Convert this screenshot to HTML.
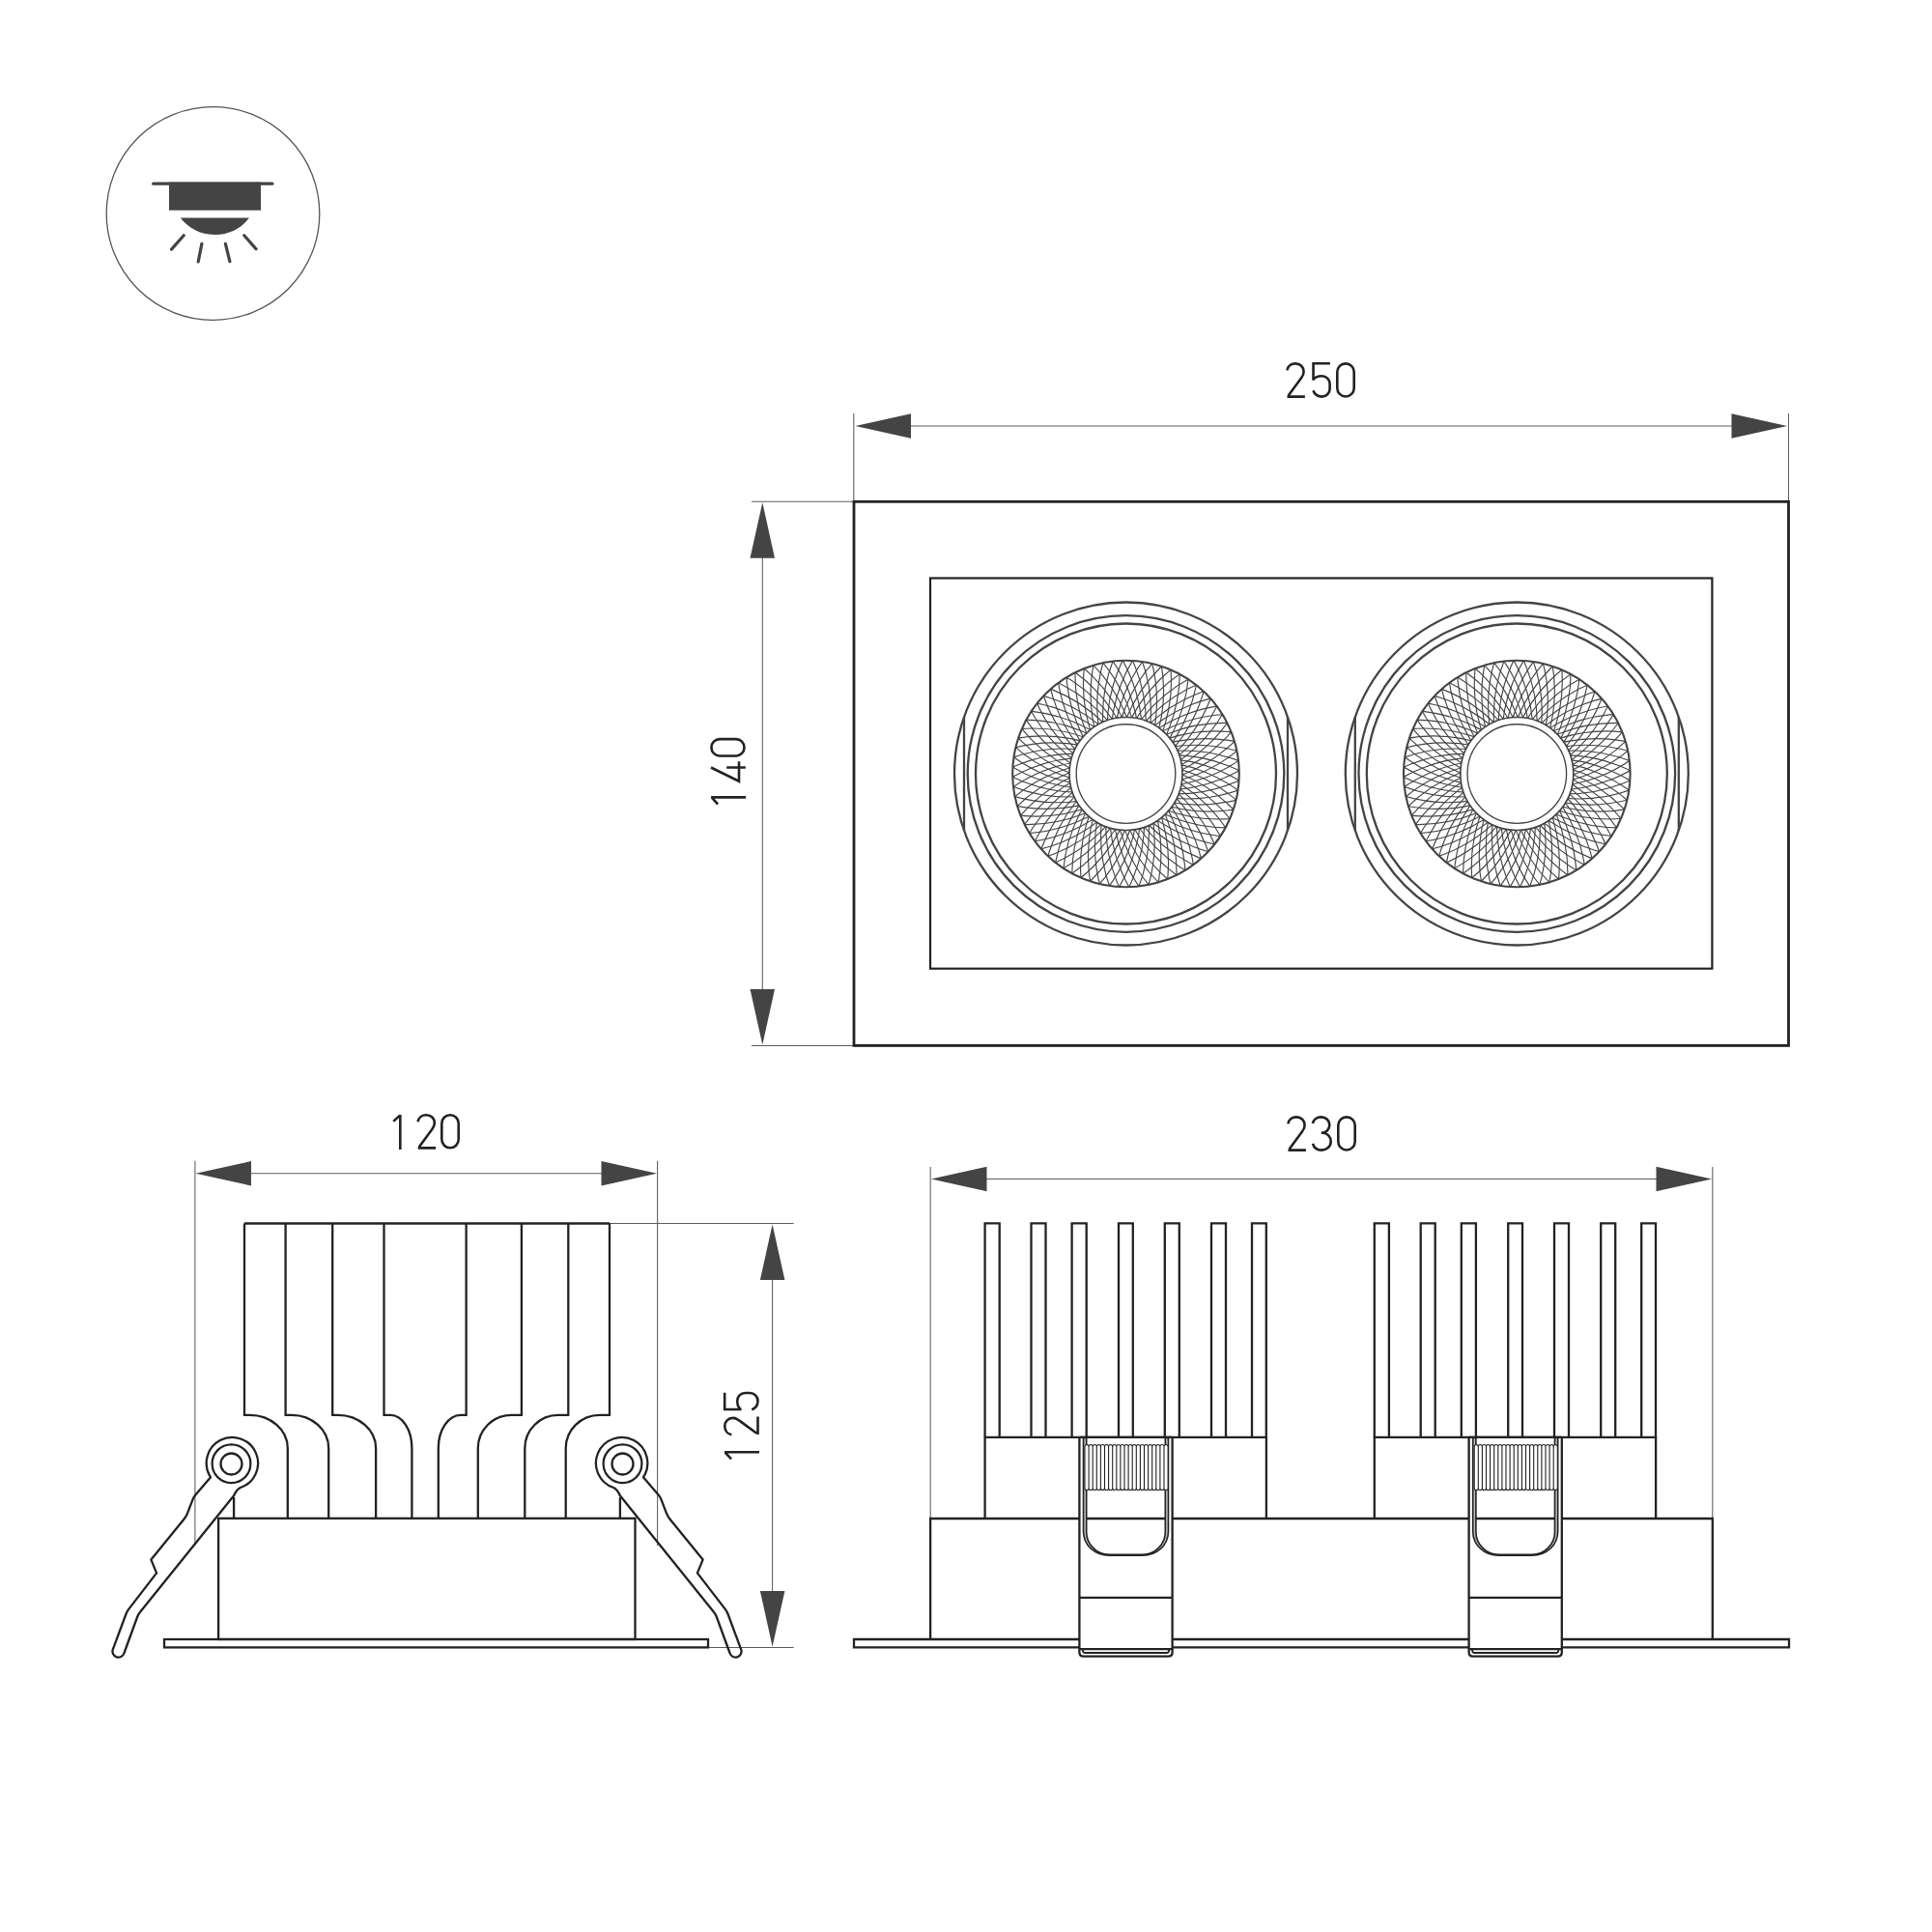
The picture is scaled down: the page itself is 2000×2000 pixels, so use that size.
<!DOCTYPE html>
<html><head><meta charset="utf-8"><title>drawing</title>
<style>html,body{margin:0;padding:0;background:#fff;width:2000px;height:2000px;overflow:hidden;font-family:"Liberation Sans",sans-serif;} svg{display:block}</style>
</head><body>
<svg width="2000" height="2000" viewBox="0 0 2000 2000">
<rect width="2000" height="2000" fill="#fff"/>
<g>
<circle cx="220.5" cy="221" r="110.3" fill="none" stroke="#555" stroke-width="1.3"/>
<line x1="158.7" y1="190.2" x2="281.9" y2="190.2" stroke="#444" stroke-width="3.2" stroke-linecap="round"/>
<rect x="175" y="188.6" width="95" height="29.1" fill="#444"/>
<path d="M186.8,225.6 L258,225.6 C250,236 238,243 222.4,243 C206.8,243 194.8,236 186.8,225.6 Z" fill="#444"/>
<g stroke="#444" stroke-width="3.2" stroke-linecap="round">
<line x1="190.2" y1="243.8" x2="177.5" y2="258.1"/>
<line x1="208.9" y1="252.4" x2="205.2" y2="271"/>
<line x1="233.4" y1="252.4" x2="237.9" y2="270.7"/>
<line x1="252.8" y1="243.8" x2="265.1" y2="257.8"/>
</g>
</g>
<g stroke="#5c5c5c" stroke-width="1.05" fill="none">
<line x1="883.8" y1="428" x2="883.8" y2="519"/>
<line x1="1851.5" y1="428" x2="1851.5" y2="519"/>
<line x1="940" y1="441" x2="1795" y2="441"/>
<line x1="778" y1="519.3" x2="884" y2="519.3"/>
<line x1="778" y1="1082.4" x2="884" y2="1082.4"/>
<line x1="789.3" y1="575" x2="789.3" y2="1026"/>
<line x1="201.9" y1="1201.7" x2="201.9" y2="1600"/>
<line x1="680.6" y1="1201.7" x2="680.6" y2="1600"/>
<line x1="258" y1="1214.7" x2="625" y2="1214.7"/>
<line x1="631" y1="1266.5" x2="821.6" y2="1266.5"/>
<line x1="734" y1="1705.5" x2="821.6" y2="1705.5"/>
<line x1="799.6" y1="1322" x2="799.6" y2="1650"/>
<line x1="963.2" y1="1208.1" x2="963.2" y2="1572"/>
<line x1="1772.8" y1="1208.1" x2="1772.8" y2="1572"/>
<line x1="1019" y1="1220.5" x2="1716" y2="1220.5"/>
</g>
<g fill="#444">
<polygon points="885.5,441.0 943.0,428.2 943.0,453.8"/>
<polygon points="1850.0,441.0 1792.5,428.2 1792.5,453.8"/>
<polygon points="789.3,520.3 776.5,577.8 802.0,577.8"/>
<polygon points="789.3,1081.5 776.5,1024.0 802.0,1024.0"/>
<polygon points="202.5,1214.7 260.0,1202.0 260.0,1227.5"/>
<polygon points="680.0,1214.7 622.5,1202.0 622.5,1227.5"/>
<polygon points="799.6,1267.5 786.9,1325.0 812.4,1325.0"/>
<polygon points="799.6,1704.5 786.9,1647.0 812.4,1647.0"/>
<polygon points="964.0,1220.5 1021.5,1207.8 1021.5,1233.2"/>
<polygon points="1772.0,1220.5 1714.5,1207.8 1714.5,1233.2"/>
</g>
<g fill="none" stroke="#222" stroke-width="2.6" stroke-linejoin="miter" stroke-linecap="butt">
<path transform="translate(1331.5,375.1)" d="M0.9,8.3 C1.5,4.2 5,1.3 9.6,1.3 C14.5,1.3 18.1,4.8 18.1,9.6 C18.1,12.2 17.2,14.1 15.6,16.1 L2.2,34.3 M1.0,35.5 L19.4,35.5"/>
<path transform="translate(1358.7,375.1)" d="M18.2,1.15 L0.85,1.15 L0.85,18.6 M0.85,17.9 C2.6,15.6 5.9,14.2 9.7,14.2 C14.3,14.2 17.9,17.8 17.9,22.4 L17.9,27.3 C17.9,31.9 14.3,35.5 9.7,35.5 C5.6,35.5 2.1,33 0.7,29.2"/>
<path transform="translate(1383,375.1)" d="M1.3,10 A8.7,8.7 0 0 1 18.7,10 L18.7,26.7 A8.7,8.7 0 0 1 1.3,26.7 Z"/>
<path transform="translate(1332.5,1155.1)" d="M0.9,8.3 C1.5,4.2 5,1.3 9.6,1.3 C14.5,1.3 18.1,4.8 18.1,9.6 C18.1,12.2 17.2,14.1 15.6,16.1 L2.2,34.3 M1.0,35.5 L19.4,35.5"/>
<path transform="translate(1358.1,1155.1)" d="M0.9,7.9 C1.6,4 5,1.3 9.6,1.3 C14.6,1.3 18.2,4.8 18.2,9.6 C18.2,14.2 14.6,17.7 10,17.7 L9.6,17.7 L11,17.7 C15.9,17.7 19.6,21.7 19.6,26.6 C19.6,31.6 15.3,35.5 10,35.5 C5.6,35.5 2,32.9 0.9,28.8"/>
<path transform="translate(1384,1155.1)" d="M1.3,10 A8.7,8.7 0 0 1 18.7,10 L18.7,26.7 A8.7,8.7 0 0 1 1.3,26.7 Z"/>
<path transform="translate(406.6,1152.9)" d="M0.6,8.0 L7.4,1.7 M7.7,1.0 L7.7,37"/>
<path transform="translate(431.7,1152.9)" d="M0.9,8.3 C1.5,4.2 5,1.3 9.6,1.3 C14.5,1.3 18.1,4.8 18.1,9.6 C18.1,12.2 17.2,14.1 15.6,16.1 L2.2,34.3 M1.0,35.5 L19.4,35.5"/>
<path transform="translate(456,1152.9)" d="M1.3,10 A8.7,8.7 0 0 1 18.7,10 L18.7,26.7 A8.7,8.7 0 0 1 1.3,26.7 Z"/>
<path transform="translate(735.1,833.1) rotate(-90)" d="M0.6,8.0 L7.4,1.7 M7.7,1.0 L7.7,37"/>
<path transform="translate(735.1,809.8) rotate(-90)" d="M15.3,0.9 L1.0,29.9 L21.6,29.9 M15.3,17.1 L15.3,36.7"/>
<path transform="translate(735.1,783.8) rotate(-90)" d="M1.3,10 A8.7,8.7 0 0 1 18.7,10 L18.7,26.7 A8.7,8.7 0 0 1 1.3,26.7 Z"/>
<path transform="translate(749,1511) rotate(-90)" d="M0.6,8.0 L7.4,1.7 M7.7,1.0 L7.7,37"/>
<path transform="translate(749,1486) rotate(-90)" d="M0.9,8.3 C1.5,4.2 5,1.3 9.6,1.3 C14.5,1.3 18.1,4.8 18.1,9.6 C18.1,12.2 17.2,14.1 15.6,16.1 L2.2,34.3 M1.0,35.5 L19.4,35.5"/>
<path transform="translate(749,1459.9) rotate(-90)" d="M18.2,1.15 L0.85,1.15 L0.85,18.6 M0.85,17.9 C2.6,15.6 5.9,14.2 9.7,14.2 C14.3,14.2 17.9,17.8 17.9,22.4 L17.9,27.3 C17.9,31.9 14.3,35.5 9.7,35.5 C5.6,35.5 2.1,33 0.7,29.2"/>
</g>
<g fill="none" stroke="#222" stroke-width="2.4">
<rect x="884" y="519.3" width="967.5" height="563.1" stroke-width="2.8"/>
<rect x="963" y="598.5" width="809.4" height="404.2" stroke-width="2.2"/>
</g>
<defs>
<clipPath id="ann0"><path clip-rule="evenodd" d="M1048.2,801 a117.3,117.3 0 1 0 234.6,0 a117.3,117.3 0 1 0 -234.6,0 Z M1107.0,801 a58.5,58.5 0 1 0 117,0 a58.5,58.5 0 1 0 -117,0 Z"/></clipPath>
<clipPath id="ann1"><path clip-rule="evenodd" d="M1453.0,801 a117.3,117.3 0 1 0 234.6,0 a117.3,117.3 0 1 0 -234.6,0 Z M1511.8,801 a58.5,58.5 0 1 0 117,0 a58.5,58.5 0 1 0 -117,0 Z"/></clipPath>
</defs>
<g fill="none" stroke="#444" stroke-width="2.3">
<circle cx="1165.5" cy="801" r="177.5"/>
<circle cx="1165.5" cy="801" r="163.8"/>
<circle cx="1165.5" cy="801" r="155.5"/>
<circle cx="1165.5" cy="801" r="117.3" stroke-width="2.1"/>
<circle cx="1165.5" cy="801" r="58.5" stroke-width="1.7"/>
<circle cx="1165.5" cy="801" r="51.3" stroke-width="1.35"/>
<line x1="998.0" y1="742.26" x2="998.0" y2="859.74"/>
<line x1="1333.0" y1="742.26" x2="1333.0" y2="859.74"/>
</g>
<g clip-path="url(#ann0)" fill="none" stroke="#444" stroke-width="1.15">
<circle cx="1312.01" cy="803.3" r="157.78"/>
<circle cx="1311.25" cy="816.06" r="157.78"/>
<circle cx="1309.39" cy="828.71" r="157.78"/>
<circle cx="1306.42" cy="841.14" r="157.78"/>
<circle cx="1302.39" cy="853.27" r="157.78"/>
<circle cx="1297.31" cy="865" r="157.78"/>
<circle cx="1291.23" cy="876.25" r="157.78"/>
<circle cx="1284.2" cy="886.92" r="157.78"/>
<circle cx="1276.26" cy="896.94" r="157.78"/>
<circle cx="1267.47" cy="906.23" r="157.78"/>
<circle cx="1257.91" cy="914.71" r="157.78"/>
<circle cx="1247.65" cy="922.34" r="157.78"/>
<circle cx="1236.76" cy="929.03" r="157.78"/>
<circle cx="1225.33" cy="934.76" r="157.78"/>
<circle cx="1213.45" cy="939.46" r="157.78"/>
<circle cx="1201.2" cy="943.12" r="157.78"/>
<circle cx="1188.67" cy="945.69" r="157.78"/>
<circle cx="1175.98" cy="947.15" r="157.78"/>
<circle cx="1163.2" cy="947.51" r="157.78"/>
<circle cx="1150.44" cy="946.75" r="157.78"/>
<circle cx="1137.79" cy="944.89" r="157.78"/>
<circle cx="1125.36" cy="941.92" r="157.78"/>
<circle cx="1113.23" cy="937.89" r="157.78"/>
<circle cx="1101.5" cy="932.81" r="157.78"/>
<circle cx="1090.25" cy="926.73" r="157.78"/>
<circle cx="1079.58" cy="919.7" r="157.78"/>
<circle cx="1069.56" cy="911.76" r="157.78"/>
<circle cx="1060.27" cy="902.97" r="157.78"/>
<circle cx="1051.79" cy="893.41" r="157.78"/>
<circle cx="1044.16" cy="883.15" r="157.78"/>
<circle cx="1037.47" cy="872.26" r="157.78"/>
<circle cx="1031.74" cy="860.83" r="157.78"/>
<circle cx="1027.04" cy="848.95" r="157.78"/>
<circle cx="1023.38" cy="836.7" r="157.78"/>
<circle cx="1020.81" cy="824.17" r="157.78"/>
<circle cx="1019.35" cy="811.48" r="157.78"/>
<circle cx="1018.99" cy="798.7" r="157.78"/>
<circle cx="1019.75" cy="785.94" r="157.78"/>
<circle cx="1021.61" cy="773.29" r="157.78"/>
<circle cx="1024.58" cy="760.86" r="157.78"/>
<circle cx="1028.61" cy="748.73" r="157.78"/>
<circle cx="1033.69" cy="737" r="157.78"/>
<circle cx="1039.77" cy="725.75" r="157.78"/>
<circle cx="1046.8" cy="715.08" r="157.78"/>
<circle cx="1054.74" cy="705.06" r="157.78"/>
<circle cx="1063.53" cy="695.77" r="157.78"/>
<circle cx="1073.09" cy="687.29" r="157.78"/>
<circle cx="1083.35" cy="679.66" r="157.78"/>
<circle cx="1094.24" cy="672.97" r="157.78"/>
<circle cx="1105.67" cy="667.24" r="157.78"/>
<circle cx="1117.55" cy="662.54" r="157.78"/>
<circle cx="1129.8" cy="658.88" r="157.78"/>
<circle cx="1142.33" cy="656.31" r="157.78"/>
<circle cx="1155.02" cy="654.85" r="157.78"/>
<circle cx="1167.8" cy="654.49" r="157.78"/>
<circle cx="1180.56" cy="655.25" r="157.78"/>
<circle cx="1193.21" cy="657.11" r="157.78"/>
<circle cx="1205.64" cy="660.08" r="157.78"/>
<circle cx="1217.77" cy="664.11" r="157.78"/>
<circle cx="1229.5" cy="669.19" r="157.78"/>
<circle cx="1240.75" cy="675.27" r="157.78"/>
<circle cx="1251.42" cy="682.3" r="157.78"/>
<circle cx="1261.44" cy="690.24" r="157.78"/>
<circle cx="1270.73" cy="699.03" r="157.78"/>
<circle cx="1279.21" cy="708.59" r="157.78"/>
<circle cx="1286.84" cy="718.85" r="157.78"/>
<circle cx="1293.53" cy="729.74" r="157.78"/>
<circle cx="1299.26" cy="741.17" r="157.78"/>
<circle cx="1303.96" cy="753.05" r="157.78"/>
<circle cx="1307.62" cy="765.3" r="157.78"/>
<circle cx="1310.19" cy="777.83" r="157.78"/>
<circle cx="1311.65" cy="790.52" r="157.78"/>
</g>
<g fill="none" stroke="#444" stroke-width="2.3">
<circle cx="1570.3" cy="801" r="177.5"/>
<circle cx="1570.3" cy="801" r="163.8"/>
<circle cx="1570.3" cy="801" r="155.5"/>
<circle cx="1570.3" cy="801" r="117.3" stroke-width="2.1"/>
<circle cx="1570.3" cy="801" r="58.5" stroke-width="1.7"/>
<circle cx="1570.3" cy="801" r="51.3" stroke-width="1.35"/>
<line x1="1402.8" y1="742.26" x2="1402.8" y2="859.74"/>
<line x1="1737.8" y1="742.26" x2="1737.8" y2="859.74"/>
</g>
<g clip-path="url(#ann1)" fill="none" stroke="#444" stroke-width="1.15">
<circle cx="1716.81" cy="803.3" r="157.78"/>
<circle cx="1716.05" cy="816.06" r="157.78"/>
<circle cx="1714.19" cy="828.71" r="157.78"/>
<circle cx="1711.22" cy="841.14" r="157.78"/>
<circle cx="1707.19" cy="853.27" r="157.78"/>
<circle cx="1702.11" cy="865" r="157.78"/>
<circle cx="1696.03" cy="876.25" r="157.78"/>
<circle cx="1689" cy="886.92" r="157.78"/>
<circle cx="1681.06" cy="896.94" r="157.78"/>
<circle cx="1672.27" cy="906.23" r="157.78"/>
<circle cx="1662.71" cy="914.71" r="157.78"/>
<circle cx="1652.45" cy="922.34" r="157.78"/>
<circle cx="1641.56" cy="929.03" r="157.78"/>
<circle cx="1630.13" cy="934.76" r="157.78"/>
<circle cx="1618.25" cy="939.46" r="157.78"/>
<circle cx="1606" cy="943.12" r="157.78"/>
<circle cx="1593.47" cy="945.69" r="157.78"/>
<circle cx="1580.78" cy="947.15" r="157.78"/>
<circle cx="1568" cy="947.51" r="157.78"/>
<circle cx="1555.24" cy="946.75" r="157.78"/>
<circle cx="1542.59" cy="944.89" r="157.78"/>
<circle cx="1530.16" cy="941.92" r="157.78"/>
<circle cx="1518.03" cy="937.89" r="157.78"/>
<circle cx="1506.3" cy="932.81" r="157.78"/>
<circle cx="1495.05" cy="926.73" r="157.78"/>
<circle cx="1484.38" cy="919.7" r="157.78"/>
<circle cx="1474.36" cy="911.76" r="157.78"/>
<circle cx="1465.07" cy="902.97" r="157.78"/>
<circle cx="1456.59" cy="893.41" r="157.78"/>
<circle cx="1448.96" cy="883.15" r="157.78"/>
<circle cx="1442.27" cy="872.26" r="157.78"/>
<circle cx="1436.54" cy="860.83" r="157.78"/>
<circle cx="1431.84" cy="848.95" r="157.78"/>
<circle cx="1428.18" cy="836.7" r="157.78"/>
<circle cx="1425.61" cy="824.17" r="157.78"/>
<circle cx="1424.15" cy="811.48" r="157.78"/>
<circle cx="1423.79" cy="798.7" r="157.78"/>
<circle cx="1424.55" cy="785.94" r="157.78"/>
<circle cx="1426.41" cy="773.29" r="157.78"/>
<circle cx="1429.38" cy="760.86" r="157.78"/>
<circle cx="1433.41" cy="748.73" r="157.78"/>
<circle cx="1438.49" cy="737" r="157.78"/>
<circle cx="1444.57" cy="725.75" r="157.78"/>
<circle cx="1451.6" cy="715.08" r="157.78"/>
<circle cx="1459.54" cy="705.06" r="157.78"/>
<circle cx="1468.33" cy="695.77" r="157.78"/>
<circle cx="1477.89" cy="687.29" r="157.78"/>
<circle cx="1488.15" cy="679.66" r="157.78"/>
<circle cx="1499.04" cy="672.97" r="157.78"/>
<circle cx="1510.47" cy="667.24" r="157.78"/>
<circle cx="1522.35" cy="662.54" r="157.78"/>
<circle cx="1534.6" cy="658.88" r="157.78"/>
<circle cx="1547.13" cy="656.31" r="157.78"/>
<circle cx="1559.82" cy="654.85" r="157.78"/>
<circle cx="1572.6" cy="654.49" r="157.78"/>
<circle cx="1585.36" cy="655.25" r="157.78"/>
<circle cx="1598.01" cy="657.11" r="157.78"/>
<circle cx="1610.44" cy="660.08" r="157.78"/>
<circle cx="1622.57" cy="664.11" r="157.78"/>
<circle cx="1634.3" cy="669.19" r="157.78"/>
<circle cx="1645.55" cy="675.27" r="157.78"/>
<circle cx="1656.22" cy="682.3" r="157.78"/>
<circle cx="1666.24" cy="690.24" r="157.78"/>
<circle cx="1675.53" cy="699.03" r="157.78"/>
<circle cx="1684.01" cy="708.59" r="157.78"/>
<circle cx="1691.64" cy="718.85" r="157.78"/>
<circle cx="1698.33" cy="729.74" r="157.78"/>
<circle cx="1704.06" cy="741.17" r="157.78"/>
<circle cx="1708.76" cy="753.05" r="157.78"/>
<circle cx="1712.42" cy="765.3" r="157.78"/>
<circle cx="1714.99" cy="777.83" r="157.78"/>
<circle cx="1716.45" cy="790.52" r="157.78"/>
</g>
<g fill="none" stroke="#222" stroke-width="2.3" stroke-linejoin="miter">
<line x1="253" y1="1266.5" x2="631" y2="1266.5"/>
<path d="M253.0,1266.5 L253.0,1464.9 L258.6,1464.9 A39.2,34.3 0 0 1 297.8,1499.2 L297.8,1571.8"/>
<path d="M295.6,1266.5 L295.6,1464.9 L302.0,1464.9 A38.2,34.3 0 0 1 340.2,1499.2 L340.2,1571.8"/>
<path d="M344.2,1266.5 L344.2,1464.9 L349.7,1464.9 A39.4,34.3 0 0 1 389.1,1499.2 L389.1,1571.8"/>
<path d="M397.5,1266.5 L397.5,1464.9 L404.2,1464.9 A22.2,34.3 0 0 1 426.4,1499.2 L426.4,1571.8"/>
<path d="M482.6,1266.5 L482.6,1464.9 L476.9,1464.9 A23.1,34.3 0 0 0 453.8,1499.2 L453.8,1571.8"/>
<path d="M539.9,1266.5 L539.9,1464.9 L529.4,1464.9 A34.6,34.3 0 0 0 494.8,1499.2 L494.8,1571.8"/>
<path d="M588.3,1266.5 L588.3,1464.9 L577.8,1464.9 A34.5,34.3 0 0 0 543.3,1499.2 L543.3,1571.8"/>
<path d="M631.0,1266.5 L631.0,1464.9 L620.9,1464.9 A35.2,34.3 0 0 0 585.7,1499.2 L585.7,1571.8"/>
<rect x="226.1" y="1571.8" width="431.4" height="125.2"/>
<rect x="170" y="1697" width="563" height="8.4"/>
<line x1="242.1" y1="1550" x2="242.1" y2="1571.8"/>
<line x1="641.9" y1="1550" x2="641.9" y2="1571.8"/>
</g>
<g fill="none" stroke="#222" stroke-width="2.3" stroke-linejoin="round">
<path d="M218.0,1529.2 A26.7,26.7 0 1 1 248.8,1540.0 Q244.5,1542.5 242.1,1548.3 L145.5,1668.2 Q143.2,1671 142.1,1674 L128.4,1711.5 A6,6 0 0 1 116.8,1707.6 L130.4,1671 Q131.3,1668.5 133.0,1666.1 L162.1,1628.4 L156.4,1614.6 L190.6,1572.5 Q192.9,1569.6 194.1,1566.4 L199.6,1552.2 Q200.6,1549.6 202.4,1547.6 Z"/>
<path transform="translate(884,0) scale(-1,1)" d="M218.0,1529.2 A26.7,26.7 0 1 1 248.8,1540.0 Q244.5,1542.5 242.1,1548.3 L145.5,1668.2 Q143.2,1671 142.1,1674 L128.4,1711.5 A6,6 0 0 1 116.8,1707.6 L130.4,1671 Q131.3,1668.5 133.0,1666.1 L162.1,1628.4 L156.4,1614.6 L190.6,1572.5 Q192.9,1569.6 194.1,1566.4 L199.6,1552.2 Q200.6,1549.6 202.4,1547.6 Z"/>
</g>
<g fill="none" stroke="#222" stroke-width="2.3">
<g><circle cx="239.5" cy="1515.2" r="19.9"/><circle cx="239.5" cy="1515.5" r="11"/></g>
<g transform="translate(884,0) scale(-1,1)"><circle cx="239.5" cy="1515.2" r="19.9"/><circle cx="239.5" cy="1515.5" r="11"/></g>
</g>
<g fill="none" stroke="#222" stroke-width="2.3">
<path d="M963.1,1697 L963.1,1572 L1117.4,1572 M1213.6,1572 L1520.6,1572 M1616.9,1572 L1772.8,1572 L1772.8,1697"/>
<path d="M1117.4,1697 L884,1697 L884,1705.4 L1117.4,1705.4 M1213.6,1697 L1520.6,1697 M1213.6,1705.4 L1520.6,1705.4 M1616.9,1697 L1852,1697 L1852,1705.4 L1616.9,1705.4"/>
<path d="M1019.6,1572 L1019.6,1487.8 L1310.9,1487.8 L1310.9,1572"/>
<path d="M1019.6,1487.8 L1019.6,1266.3 L1034.7,1266.3 L1034.7,1487.8"/>
<path d="M1067.5,1487.8 L1067.5,1266.3 L1082.5,1266.3 L1082.5,1487.8"/>
<path d="M1109.6,1487.8 L1109.6,1266.3 L1124.7,1266.3 L1124.7,1487.8"/>
<path d="M1158,1487.8 L1158,1266.3 L1172.8,1266.3 L1172.8,1487.8"/>
<path d="M1205.8,1487.8 L1205.8,1266.3 L1220.8,1266.3 L1220.8,1487.8"/>
<path d="M1254,1487.8 L1254,1266.3 L1269,1266.3 L1269,1487.8"/>
<path d="M1296,1487.8 L1296,1266.3 L1310.8,1266.3 L1310.8,1487.8"/>
<path d="M1422.8,1572 L1422.8,1487.8 L1714.1,1487.8 L1714.1,1572"/>
<path d="M1422.8,1487.8 L1422.8,1266.3 L1437.9,1266.3 L1437.9,1487.8"/>
<path d="M1470.7,1487.8 L1470.7,1266.3 L1485.7,1266.3 L1485.7,1487.8"/>
<path d="M1512.8,1487.8 L1512.8,1266.3 L1527.9,1266.3 L1527.9,1487.8"/>
<path d="M1561.2,1487.8 L1561.2,1266.3 L1576,1266.3 L1576,1487.8"/>
<path d="M1609,1487.8 L1609,1266.3 L1624,1266.3 L1624,1487.8"/>
<path d="M1657.2,1487.8 L1657.2,1266.3 L1672.2,1266.3 L1672.2,1487.8"/>
<path d="M1699.2,1487.8 L1699.2,1266.3 L1714,1266.3 L1714,1487.8"/>
</g>
<path fill="#fff" stroke="#222" stroke-width="2.3" d="M1117.4,1487.8 L1117.4,1710.5 Q1117.4,1714.6 1121.5,1714.6 L1209.5,1714.6 Q1213.6,1714.6 1213.6,1710.5 L1213.6,1487.8"/>
<g fill="none" stroke="#222" stroke-width="2.3">
<line x1="1117.4" y1="1653.9" x2="1213.6" y2="1653.9"/>
<line x1="1117.4" y1="1707.1" x2="1213.6" y2="1707.1"/>
<path stroke-width="1.8" d="M1120.9,1707.5 L1120.9,1708.5 Q1120.9,1711 1123.4,1711 L1207.6,1711 Q1210.1,1711 1210.1,1708.5 L1210.1,1707.5"/>
<line x1="1117.4" y1="1487.8" x2="1213.6" y2="1487.8"/>
<line x1="1124.4" y1="1572" x2="1206.6" y2="1572"/>
</g>
<path fill="#bbb" stroke="#222" stroke-width="1.6" d="M1121.5,1488.5 L1121.5,1585 C1121.5,1600 1133.5,1610.3 1148.5,1610.3 L1182.5,1610.3 C1197.5,1610.3 1209.5,1600 1209.5,1585 L1209.5,1488.5 L1206.3,1488.5 L1206.3,1586 C1206.3,1598 1196.5,1609.3 1182.5,1609.3 L1148.5,1609.3 C1134.5,1609.3 1124.7,1598 1124.7,1586 L1124.7,1488.5 Z"/>
<path fill="#fff" stroke="#222" stroke-width="1.1" d="M1123,1497.5 A2.05,2.05 0 0 1 1127.1,1497.5 L1127.1,1540.5 A2.05,2.05 0 0 1 1123,1540.5 Z M1127.1,1497.5 A2.05,2.05 0 0 1 1131.2,1497.5 L1131.2,1540.5 A2.05,2.05 0 0 1 1127.1,1540.5 Z M1131.2,1497.5 A2.05,2.05 0 0 1 1135.3,1497.5 L1135.3,1540.5 A2.05,2.05 0 0 1 1131.2,1540.5 Z M1135.3,1497.5 A2.05,2.05 0 0 1 1139.4,1497.5 L1139.4,1540.5 A2.05,2.05 0 0 1 1135.3,1540.5 Z M1139.4,1497.5 A2.05,2.05 0 0 1 1143.5,1497.5 L1143.5,1540.5 A2.05,2.05 0 0 1 1139.4,1540.5 Z M1143.5,1497.5 A2.05,2.05 0 0 1 1147.6,1497.5 L1147.6,1540.5 A2.05,2.05 0 0 1 1143.5,1540.5 Z M1147.6,1497.5 A2.05,2.05 0 0 1 1151.7,1497.5 L1151.7,1540.5 A2.05,2.05 0 0 1 1147.6,1540.5 Z M1151.7,1497.5 A2.05,2.05 0 0 1 1155.8,1497.5 L1155.8,1540.5 A2.05,2.05 0 0 1 1151.7,1540.5 Z M1155.8,1497.5 A2.05,2.05 0 0 1 1159.9,1497.5 L1159.9,1540.5 A2.05,2.05 0 0 1 1155.8,1540.5 Z M1159.9,1497.5 A2.05,2.05 0 0 1 1164,1497.5 L1164,1540.5 A2.05,2.05 0 0 1 1159.9,1540.5 Z M1164,1497.5 A2.05,2.05 0 0 1 1168.1,1497.5 L1168.1,1540.5 A2.05,2.05 0 0 1 1164,1540.5 Z M1168.1,1497.5 A2.05,2.05 0 0 1 1172.2,1497.5 L1172.2,1540.5 A2.05,2.05 0 0 1 1168.1,1540.5 Z M1172.2,1497.5 A2.05,2.05 0 0 1 1176.3,1497.5 L1176.3,1540.5 A2.05,2.05 0 0 1 1172.2,1540.5 Z M1176.3,1497.5 A2.05,2.05 0 0 1 1180.4,1497.5 L1180.4,1540.5 A2.05,2.05 0 0 1 1176.3,1540.5 Z M1180.4,1497.5 A2.05,2.05 0 0 1 1184.5,1497.5 L1184.5,1540.5 A2.05,2.05 0 0 1 1180.4,1540.5 Z M1184.5,1497.5 A2.05,2.05 0 0 1 1188.6,1497.5 L1188.6,1540.5 A2.05,2.05 0 0 1 1184.5,1540.5 Z M1188.6,1497.5 A2.05,2.05 0 0 1 1192.7,1497.5 L1192.7,1540.5 A2.05,2.05 0 0 1 1188.6,1540.5 Z M1192.7,1497.5 A2.05,2.05 0 0 1 1196.8,1497.5 L1196.8,1540.5 A2.05,2.05 0 0 1 1192.7,1540.5 Z M1196.8,1497.5 A2.05,2.05 0 0 1 1200.9,1497.5 L1200.9,1540.5 A2.05,2.05 0 0 1 1196.8,1540.5 Z M1200.9,1497.5 A2.05,2.05 0 0 1 1205,1497.5 L1205,1540.5 A2.05,2.05 0 0 1 1200.9,1540.5 Z M1205,1497.5 A2.05,2.05 0 0 1 1209.1,1497.5 L1209.1,1540.5 A2.05,2.05 0 0 1 1205,1540.5 Z"/>
<path fill="#fff" stroke="#222" stroke-width="2.3" d="M1520.6,1487.8 L1520.6,1710.5 Q1520.6,1714.6 1524.7,1714.6 L1612.7,1714.6 Q1616.8,1714.6 1616.8,1710.5 L1616.8,1487.8"/>
<g fill="none" stroke="#222" stroke-width="2.3">
<line x1="1520.6" y1="1653.9" x2="1616.8" y2="1653.9"/>
<line x1="1520.6" y1="1707.1" x2="1616.8" y2="1707.1"/>
<path stroke-width="1.8" d="M1524.1,1707.5 L1524.1,1708.5 Q1524.1,1711 1526.6,1711 L1610.8,1711 Q1613.3,1711 1613.3,1708.5 L1613.3,1707.5"/>
<line x1="1520.6" y1="1487.8" x2="1616.8" y2="1487.8"/>
<line x1="1527.6" y1="1572" x2="1609.8" y2="1572"/>
</g>
<path fill="#bbb" stroke="#222" stroke-width="1.6" d="M1524.7,1488.5 L1524.7,1585 C1524.7,1600 1536.7,1610.3 1551.7,1610.3 L1585.7,1610.3 C1600.7,1610.3 1612.7,1600 1612.7,1585 L1612.7,1488.5 L1609.5,1488.5 L1609.5,1586 C1609.5,1598 1599.7,1609.3 1585.7,1609.3 L1551.7,1609.3 C1537.7,1609.3 1527.9,1598 1527.9,1586 L1527.9,1488.5 Z"/>
<path fill="#fff" stroke="#222" stroke-width="1.1" d="M1526.2,1497.5 A2.05,2.05 0 0 1 1530.3,1497.5 L1530.3,1540.5 A2.05,2.05 0 0 1 1526.2,1540.5 Z M1530.3,1497.5 A2.05,2.05 0 0 1 1534.4,1497.5 L1534.4,1540.5 A2.05,2.05 0 0 1 1530.3,1540.5 Z M1534.4,1497.5 A2.05,2.05 0 0 1 1538.5,1497.5 L1538.5,1540.5 A2.05,2.05 0 0 1 1534.4,1540.5 Z M1538.5,1497.5 A2.05,2.05 0 0 1 1542.6,1497.5 L1542.6,1540.5 A2.05,2.05 0 0 1 1538.5,1540.5 Z M1542.6,1497.5 A2.05,2.05 0 0 1 1546.7,1497.5 L1546.7,1540.5 A2.05,2.05 0 0 1 1542.6,1540.5 Z M1546.7,1497.5 A2.05,2.05 0 0 1 1550.8,1497.5 L1550.8,1540.5 A2.05,2.05 0 0 1 1546.7,1540.5 Z M1550.8,1497.5 A2.05,2.05 0 0 1 1554.9,1497.5 L1554.9,1540.5 A2.05,2.05 0 0 1 1550.8,1540.5 Z M1554.9,1497.5 A2.05,2.05 0 0 1 1559,1497.5 L1559,1540.5 A2.05,2.05 0 0 1 1554.9,1540.5 Z M1559,1497.5 A2.05,2.05 0 0 1 1563.1,1497.5 L1563.1,1540.5 A2.05,2.05 0 0 1 1559,1540.5 Z M1563.1,1497.5 A2.05,2.05 0 0 1 1567.2,1497.5 L1567.2,1540.5 A2.05,2.05 0 0 1 1563.1,1540.5 Z M1567.2,1497.5 A2.05,2.05 0 0 1 1571.3,1497.5 L1571.3,1540.5 A2.05,2.05 0 0 1 1567.2,1540.5 Z M1571.3,1497.5 A2.05,2.05 0 0 1 1575.4,1497.5 L1575.4,1540.5 A2.05,2.05 0 0 1 1571.3,1540.5 Z M1575.4,1497.5 A2.05,2.05 0 0 1 1579.5,1497.5 L1579.5,1540.5 A2.05,2.05 0 0 1 1575.4,1540.5 Z M1579.5,1497.5 A2.05,2.05 0 0 1 1583.6,1497.5 L1583.6,1540.5 A2.05,2.05 0 0 1 1579.5,1540.5 Z M1583.6,1497.5 A2.05,2.05 0 0 1 1587.7,1497.5 L1587.7,1540.5 A2.05,2.05 0 0 1 1583.6,1540.5 Z M1587.7,1497.5 A2.05,2.05 0 0 1 1591.8,1497.5 L1591.8,1540.5 A2.05,2.05 0 0 1 1587.7,1540.5 Z M1591.8,1497.5 A2.05,2.05 0 0 1 1595.9,1497.5 L1595.9,1540.5 A2.05,2.05 0 0 1 1591.8,1540.5 Z M1595.9,1497.5 A2.05,2.05 0 0 1 1600,1497.5 L1600,1540.5 A2.05,2.05 0 0 1 1595.9,1540.5 Z M1600,1497.5 A2.05,2.05 0 0 1 1604.1,1497.5 L1604.1,1540.5 A2.05,2.05 0 0 1 1600,1540.5 Z M1604.1,1497.5 A2.05,2.05 0 0 1 1608.2,1497.5 L1608.2,1540.5 A2.05,2.05 0 0 1 1604.1,1540.5 Z M1608.2,1497.5 A2.05,2.05 0 0 1 1612.3,1497.5 L1612.3,1540.5 A2.05,2.05 0 0 1 1608.2,1540.5 Z"/>
</svg>
</body></html>
